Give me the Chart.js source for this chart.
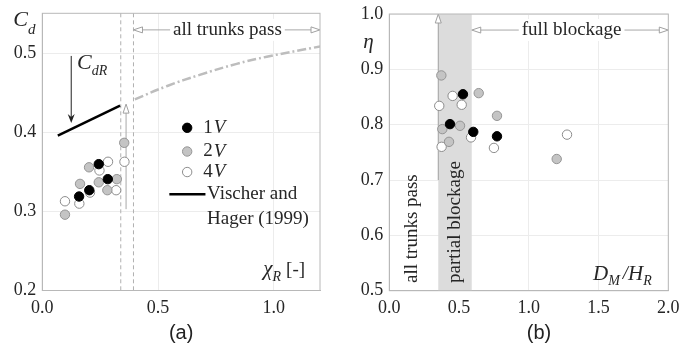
<!DOCTYPE html>
<html lang="en">
<head>
<meta charset="UTF-8">
<title>Discharge coefficient and efficiency</title>
<script src="https://cdn.jsdelivr.net/npm/chart.js"></script>
<style>
  body { margin: 0; background: #fff; }
  .wrap { position: relative; width: 694px; height: 352px; }
  .panel { position: absolute; top: 0; width: 347px; height: 352px; }
  #left { left: 0; }
  #right { left: 347px; }
</style>
</head>
<body>
<div class="wrap">
  <div class="panel" id="left"><canvas id="chartA"></canvas></div>
  <div class="panel" id="right"><canvas id="chartB"></canvas></div>
</div>
<script>
// ---- panel (a): Cd vs chi_R ----
const chiR1V = [0.159, 0.203, 0.244, 0.283];
const cd1V   = [0.319, 0.327, 0.360, 0.341];
const chiR2V = [0.098, 0.163, 0.202, 0.244, 0.281, 0.322, 0.354];
const cd2V   = [0.296, 0.335, 0.356, 0.337, 0.327, 0.341, 0.387];
const chiR4V = [0.098, 0.160, 0.206, 0.247, 0.284, 0.319, 0.355];
const cd4V   = [0.313, 0.310, 0.324, 0.352, 0.363, 0.327, 0.363];
const chiRVischer = [0.067, 0.336];
const cdVischer   = [0.396, 0.434];
const chiRExtra = [0.40, 0.54, 0.68, 0.84, 0.97, 1.2];
const cdExtra   = [0.442, 0.459, 0.473, 0.487, 0.496, 0.509];
const xTicksA = [0, 0.5, 1.0];
const yTicksA = [0.2, 0.3, 0.4, 0.5];

// ---- panel (b): eta vs DM/HR ----
const dm1V  = [0.435, 0.528, 0.602, 0.772];
const eta1V = [0.801, 0.855, 0.787, 0.779];
const dm2V  = [0.373, 0.380, 0.428, 0.507, 0.641, 0.772, 1.200];
const eta2V = [0.889, 0.792, 0.769, 0.798, 0.857, 0.816, 0.738];
const dm4V  = [0.358, 0.375, 0.454, 0.519, 0.586, 0.750, 1.274];
const eta4V = [0.834, 0.760, 0.852, 0.836, 0.777, 0.758, 0.782];
const xTicksB = [0, 0.5, 1.0, 1.5, 2.0];
const yTicksB = [0.5, 0.6, 0.7, 0.8, 0.9, 1.0];

const SERIF = "'Liberation Serif', 'Times New Roman', serif";
const TXT = '#262626';

function pts(xs, ys) { return xs.map((x, i) => ({ x: x, y: ys[i] })); }

function dots(label, xs, ys, fill, border) {
  return {
    label: label, data: pts(xs, ys), pointRadius: 4.7, pointHoverRadius: 4.7,
    pointBackgroundColor: fill, pointBorderColor: border, pointBorderWidth: 1, showLine: false
  };
}

// rich text: parts = [{t, it, size, dy}]
function richWidth(ctx, parts) {
  let w = 0;
  parts.forEach(p => {
    ctx.font = (p.it ? 'italic ' : '') + p.size + 'px ' + SERIF;
    w += ctx.measureText(p.t).width + (p.gap || 0);
  });
  return w;
}
function rich(ctx, parts, x, y, align) {
  ctx.save();
  ctx.fillStyle = TXT;
  ctx.textBaseline = 'middle';
  ctx.textAlign = 'left';
  if (align === 'center') x -= richWidth(ctx, parts) / 2;
  parts.forEach(p => {
    ctx.font = (p.it ? 'italic ' : '') + p.size + 'px ' + SERIF;
    ctx.fillText(p.t, x, y + (p.dy || 0));
    x += ctx.measureText(p.t).width + (p.gap || 0);
  });
  ctx.restore();
}

function hollowHead(ctx, x, y, dir) {
  const L = 9, H = 3;
  ctx.save();
  ctx.beginPath();
  if (dir === 'left') { ctx.moveTo(x, y); ctx.lineTo(x + L, y - H); ctx.lineTo(x + L, y + H); }
  if (dir === 'right') { ctx.moveTo(x, y); ctx.lineTo(x - L, y - H); ctx.lineTo(x - L, y + H); }
  if (dir === 'up') { ctx.moveTo(x, y); ctx.lineTo(x - H, y + L); ctx.lineTo(x + H, y + L); }
  ctx.closePath();
  ctx.fillStyle = '#fff';
  ctx.fill();
  ctx.strokeStyle = '#a0a0a0';
  ctx.lineWidth = 1;
  ctx.stroke();
  ctx.restore();
}

function line(ctx, x1, y1, x2, y2, color, width, dash) {
  ctx.save();
  ctx.beginPath();
  ctx.setLineDash(dash || []);
  ctx.moveTo(x1, y1);
  ctx.lineTo(x2, y2);
  ctx.strokeStyle = color;
  ctx.lineWidth = width;
  ctx.stroke();
  ctx.restore();
}

// double arrow with a label on a white gap
function spanArrow(ctx, x1, x2, y, label, xc) {
  line(ctx, x1 + 9, y, x2 - 9, y, '#a8a8a8', 1);
  hollowHead(ctx, x1, y, 'left');
  hollowHead(ctx, x2, y, 'right');
  ctx.save();
  ctx.font = '19px ' + SERIF;
  const w = ctx.measureText(label).width;
  ctx.fillStyle = '#fff';
  ctx.fillRect(xc - w / 2 - 3, y - 11, w + 6, 22);
  ctx.fillStyle = TXT;
  ctx.textAlign = 'center';
  ctx.textBaseline = 'middle';
  ctx.fillText(label, xc, y);
  ctx.restore();
}

const framePlugin = {
  id: 'frame',
  afterDatasetsDraw(chart) {
    const a = chart.chartArea, ctx = chart.ctx;
    ctx.save();
    ctx.strokeStyle = '#b8b8b8';
    ctx.lineWidth = 1;
    ctx.strokeRect(a.left, a.top, a.right - a.left, a.bottom - a.top);
    ctx.restore();
  }
};

function scaleOpts(min, max, ticks, fitKey, fitVal, pad, lh) {
  return {
    type: 'linear', min: min, max: max,
    afterBuildTicks: s => { s.ticks = ticks.map(v => ({ value: v })); },
    afterFit: s => { s[fitKey] = fitVal; },
    ticks: { font: { family: SERIF, size: 18, lineHeight: lh }, color: TXT, padding: pad, callback: v => v.toFixed(1) },
    grid: { color: '#ececec', drawTicks: false },
    border: { color: '#b8b8b8' }
  };
}

const annotA = {
  id: 'annotA',
  beforeDatasetsDraw(chart) {
    const ctx = chart.ctx, sx = chart.scales.x, sy = chart.scales.y, a = chart.chartArea;
    [0.339, 0.394].forEach(v => {
      const x = sx.getPixelForValue(v);
      line(ctx, x, a.top, x, a.bottom, '#b0b0b0', 1, [4, 3]);
    });
    const xs = sx.getPixelForValue(0.362);
    line(ctx, xs, sy.getPixelForValue(0.303), xs, sy.getPixelForValue(0.436) + 9, '#a8a8a8', 1);
    hollowHead(ctx, xs, sy.getPixelForValue(0.436), 'up');
  },
  afterDatasetsDraw(chart) {
    const ctx = chart.ctx, sx = chart.scales.x, sy = chart.scales.y, a = chart.chartArea;
    spanArrow(ctx, sx.getPixelForValue(0.394), a.right, sy.getPixelForValue(0.53), 'all trunks pass', sx.getPixelForValue(0.80));
    // C_dR arrow
    const xa = sx.getPixelForValue(0.125);
    const yTop = sy.getPixelForValue(0.497), yTip = sy.getPixelForValue(0.412);
    line(ctx, xa, yTop, xa, yTip - 4, '#222', 1);
    ctx.save();
    ctx.beginPath();
    ctx.moveTo(xa, yTip); ctx.lineTo(xa - 3.5, yTip - 9); ctx.lineTo(xa, yTip - 6); ctx.lineTo(xa + 3.5, yTip - 9);
    ctx.closePath(); ctx.fillStyle = '#222'; ctx.fill();
    ctx.restore();
    rich(ctx, [{ t: 'C', it: true, size: 22 }, { t: 'dR', it: true, size: 14, dy: 8 }], sx.getPixelForValue(0.15), sy.getPixelForValue(0.488));
    // axis labels
    rich(ctx, [{ t: 'C', it: true, size: 22 }, { t: 'd', it: true, size: 15, dy: 10 }], a.left - 29, a.top + 7);
    rich(ctx, [{ t: '\u03c7', it: true, size: 21 }, { t: 'R', it: true, size: 14, dy: 7, gap: 5 }, { t: '[-]', size: 19 }],
      sx.getPixelForValue(0.955), sy.getPixelForValue(0.226));
    // legend
    const lx = sx.getPixelForValue(0.626), tx = sx.getPixelForValue(0.695);
    [[0.406, '#000', '#000', '1'], [0.376, '#c4c4c4', '#959595', '2'], [0.350, '#fff', '#8c8c8c', '4']].forEach(r => {
      const y = sy.getPixelForValue(r[0]);
      ctx.save();
      ctx.beginPath(); ctx.arc(lx, y, 4.7, 0, Math.PI * 2);
      ctx.fillStyle = r[1]; ctx.fill(); ctx.strokeStyle = r[2]; ctx.lineWidth = 1; ctx.stroke();
      ctx.restore();
      rich(ctx, [{ t: r[3], size: 19, gap: 1 }, { t: 'V', it: true, size: 19 }], tx, y);
    });
    const vy = sy.getPixelForValue(0.322);
    line(ctx, sx.getPixelForValue(0.549), vy, sx.getPixelForValue(0.705), vy, '#000', 2.5);
    rich(ctx, [{ t: 'Vischer and', size: 19 }], sx.getPixelForValue(0.712), vy);
    rich(ctx, [{ t: 'Hager (1999)', size: 19 }], sx.getPixelForValue(0.712), sy.getPixelForValue(0.291));
    ctx.save();
    ctx.font = '20px "Liberation Sans", Arial, sans-serif';
    ctx.fillStyle = '#222'; ctx.textAlign = 'center'; ctx.textBaseline = 'middle';
    ctx.fillText('(a)', (a.left + a.right) / 2, 333);
    ctx.restore();
  }
};

const annotB = {
  id: 'annotB',
  beforeDatasetsDraw(chart) {
    const ctx = chart.ctx, sx = chart.scales.x, sy = chart.scales.y, a = chart.chartArea;
    const x1 = sx.getPixelForValue(0.351), x2 = sx.getPixelForValue(0.591);
    ctx.save();
    ctx.fillStyle = '#dcdcdc';
    ctx.fillRect(x1, a.top, x2 - x1, a.bottom - a.top);
    ctx.restore();
    line(ctx, x1, a.top + 9, x1, sy.getPixelForValue(0.70), '#a0a0a0', 1);
    hollowHead(ctx, x1, a.top, 'up');
  },
  afterDatasetsDraw(chart) {
    const ctx = chart.ctx, sx = chart.scales.x, sy = chart.scales.y, a = chart.chartArea;
    spanArrow(ctx, sx.getPixelForValue(0.591), a.right, sy.getPixelForValue(0.971), 'full blockage', sx.getPixelForValue(1.307));
    [[0.16, 'all trunks pass'], [0.471, 'partial blockage']].forEach(r => {
      ctx.save();
      ctx.translate(sx.getPixelForValue(r[0]), sy.getPixelForValue(0.514));
      ctx.rotate(-Math.PI / 2);
      ctx.font = '19px ' + SERIF;
      ctx.fillStyle = TXT; ctx.textAlign = 'left'; ctx.textBaseline = 'middle';
      ctx.fillText(r[1], 0, 0);
      ctx.restore();
    });
    rich(ctx, [{ t: '\u03b7', it: true, size: 21 }], a.left - 26, sy.getPixelForValue(0.948));
    rich(ctx, [{ t: 'D', it: true, size: 21 }, { t: 'M', it: true, size: 14, dy: 7, gap: 3 }, { t: '/', it: true, size: 19 },
      { t: 'H', it: true, size: 21 }, { t: 'R', it: true, size: 14, dy: 7 }],
      sx.getPixelForValue(1.46), sy.getPixelForValue(0.53));
    ctx.save();
    ctx.font = '20px "Liberation Sans", Arial, sans-serif';
    ctx.fillStyle = '#222'; ctx.textAlign = 'center'; ctx.textBaseline = 'middle';
    ctx.fillText('(b)', sx.getPixelForValue(1.073), 333);
    ctx.restore();
  }
};

const common = {
  responsive: true,
  maintainAspectRatio: false,
  animation: false,
  plugins: { legend: { display: false }, tooltip: { enabled: false } }
};

new Chart(document.getElementById('chartA'), {
  type: 'scatter',
  data: {
    datasets: [
      dots('1V', chiR1V, cd1V, '#000', '#000'),
      dots('2V', chiR2V, cd2V, '#c4c4c4', '#959595'),
      dots('4V', chiR4V, cd4V, '#fff', '#8c8c8c'),
      { label: 'Vischer and Hager (1999)', data: pts(chiRVischer, cdVischer), showLine: true,
        borderColor: '#000', borderWidth: 2.5, pointRadius: 0 },
      { label: 'extrapolation', data: pts(chiRExtra, cdExtra), showLine: true, tension: 0.4,
        borderColor: '#bdbdbd', borderWidth: 2.5, borderDash: [9, 3, 2, 3], pointRadius: 0 }
    ]
  },
  options: Object.assign({}, common, {
    layout: { padding: { top: 13.3, right: 27, left: 0, bottom: 0 } },
    scales: {
      x: scaleOpts(0, 1.2, xTicksA, 'height', 61.5, 7, 1.2),
      y: scaleOpts(0.2, 0.551, yTicksA, 'width', 42.3, 6, 0.7)
    }
  }),
  plugins: [annotA, framePlugin]
});

new Chart(document.getElementById('chartB'), {
  type: 'scatter',
  data: {
    datasets: [
      dots('1V', dm1V, eta1V, '#000', '#000'),
      dots('2V', dm2V, eta2V, '#c4c4c4', '#959595'),
      dots('4V', dm4V, eta4V, '#fff', '#8c8c8c')
    ]
  },
  options: Object.assign({}, common, {
    layout: { padding: { top: 14, right: 25.7, left: 0, bottom: 0 } },
    scales: {
      x: scaleOpts(0, 2.0, xTicksB, 'height', 61.3, 7, 1.2),
      y: scaleOpts(0.5, 1.0, yTicksB, 'width', 42.3, 6, 0.7)
    }
  }),
  plugins: [annotB, framePlugin]
});
</script>
</body>
</html>
